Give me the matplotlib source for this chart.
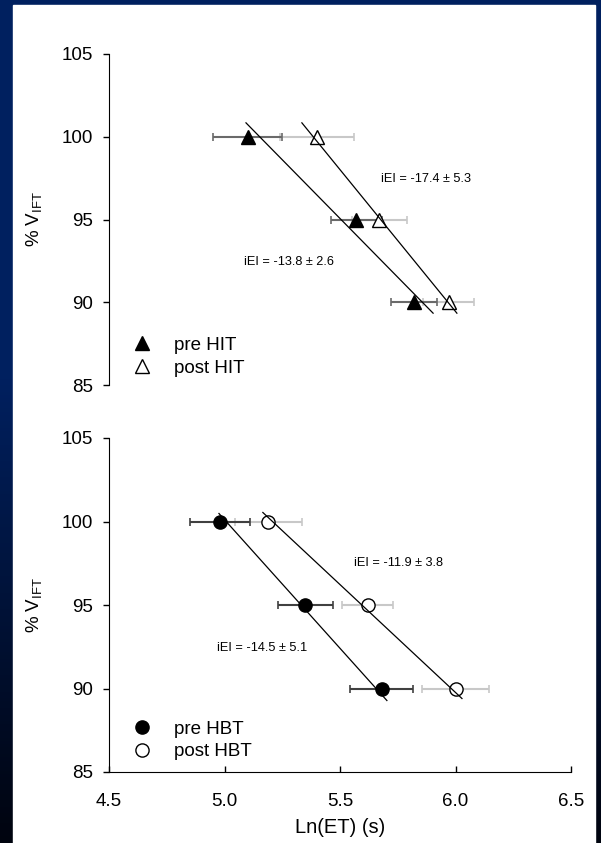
import numpy as np
import matplotlib
matplotlib.use("Agg")
import matplotlib.pyplot as plt
from matplotlib.colors import LinearSegmentedColormap
from matplotlib.patches import Rectangle

plt.rcParams['font.family'] = ['Liberation Sans', 'DejaVu Sans']
plt.rcParams['mathtext.default'] = 'regular'

# % of VIFT levels
levels = [100, 95, 90]

# HIT group, Ln(ET) means and SD
pre_hit = [5.10, 5.57, 5.82]
pre_hit_sd = [0.15, 0.11, 0.10]
post_hit = [5.40, 5.67, 5.97]
post_hit_sd = [0.16, 0.12, 0.11]

# HBT group
pre_hbt = [4.98, 5.35, 5.68]
pre_hbt_sd = [0.13, 0.12, 0.135]
post_hbt = [5.19, 5.62, 6.00]
post_hbt_sd = [0.145, 0.11, 0.145]

# regression lines (x ends, y ends)
pre_hit_line_x = [5.093, 5.903]
post_hit_line_x = [5.335, 6.006]
hit_line_y = [100.84, 89.34]
pre_hbt_line_x = [4.976, 5.703]
pre_hbt_line_y = [100.48, 89.28]
post_hbt_line_x = [5.166, 6.028]
post_hbt_line_y = [100.54, 89.40]

hit_notes = ["iEI = -17.4 \u00b1 5.3", "iEI = -13.8 \u00b1 2.6"]
hbt_notes = ["iEI = -11.9 \u00b1 3.8", "iEI = -14.5 \u00b1 5.1"]

W, H = 601, 843
fig = plt.figure(figsize=(W / 100, H / 100), dpi=100)

# slide background
bg = fig.add_axes([0, 0, 1, 1], zorder=-10)
cmap = LinearSegmentedColormap.from_list(
    "slide", [(0, "#00205f"), (0.45, "#00205f"), (1, "#00040f")])
grad = np.linspace(0, 1, 256).reshape(-1, 1)
bg.imshow(grad, aspect='auto', cmap=cmap, extent=[0, 1, 0, 1], origin='upper')
bg.add_patch(Rectangle((13 / W, 0), 582 / W, 838 / H, color='white'))
bg.set_xlim(0, 1)
bg.set_ylim(0, 1)
bg.axis('off')

fs = 13.5
note_fs = 9.2
left = 109 / W
width = 462 / W
ax1 = fig.add_axes([left, 1 - 385 / H, width, 331 / H])
ax2 = fig.add_axes([left, 1 - 772 / H, width, 334 / H])


def panel(ax, pre, pre_sd, post, post_sd, marker, labels, pre_col, leg_y):
    ax.errorbar(pre, levels, xerr=pre_sd, fmt='none', ecolor=pre_col,
                elinewidth=1.5, capsize=3, capthick=1.2, zorder=2)
    ax.errorbar(post, levels, xerr=post_sd, fmt='none', ecolor='#c8c8c8',
                elinewidth=1.5, capsize=3, capthick=1.2, zorder=1)
    ms = 10 if marker == '^' else 9.5
    ax.plot(pre, levels, marker, color='black', ms=ms, ls='none',
            label=labels[0], zorder=3)
    ax.plot(post, levels, marker, mfc='white', mec='black', mew=1,
            ms=ms, ls='none', label=labels[1], zorder=3)
    ax.set_xlim(4.5, 6.5)
    ax.set_ylim(85, 105)
    ax.set_yticks([85, 90, 95, 100, 105])
    for s in ['top', 'right']:
        ax.spines[s].set_visible(False)
    ax.tick_params(axis='y', direction='out', length=4.3, width=1,
                   labelsize=fs, pad=7)
    ax.set_ylabel('% V$_{IFT}$', fontsize=fs)
    ax.yaxis.set_label_coords(-0.14, 0.5)
    ax.legend(loc='lower left', bbox_to_anchor=(0.052, leg_y), frameon=False,
              fontsize=fs, handlelength=1.0, handletextpad=1.2,
              labelspacing=0.3, borderpad=0, borderaxespad=0)


panel(ax1, pre_hit, pre_hit_sd, post_hit, post_hit_sd, '^',
      ['pre HIT', 'post HIT'], '#6a6a6a', 0.025)
ax1.plot(pre_hit_line_x, hit_line_y, color='black', lw=0.9, zorder=4)
ax1.plot(post_hit_line_x, hit_line_y, color='black', lw=0.9, zorder=4)
ax1.spines['bottom'].set_visible(False)
ax1.set_xticks([])
ax1.text(5.677, 97.47, hit_notes[0], fontsize=note_fs, va='center')
ax1.text(5.084, 92.41, hit_notes[1], fontsize=note_fs, va='center')

panel(ax2, pre_hbt, pre_hbt_sd, post_hbt, post_hbt_sd, 'o',
      ['pre HBT', 'post HBT'], '#404040', 0.035)
ax2.plot(pre_hbt_line_x, pre_hbt_line_y, color='black', lw=0.9, zorder=4)
ax2.plot(post_hbt_line_x, post_hbt_line_y, color='black', lw=0.9, zorder=4)
ax2.set_xticks([4.5, 5.0, 5.5, 6.0, 6.5])
ax2.set_xticklabels(['4.5', '5.0', '5.5', '6.0', '6.5'])
ax2.tick_params(axis='x', direction='in', length=4, width=1,
                labelsize=fs, pad=15)
ax2.set_xlabel('Ln(ET) (s)', fontsize=14.5, labelpad=6)
ax2.text(5.561, 97.54, hbt_notes[0], fontsize=note_fs, va='center')
ax2.text(4.968, 92.40, hbt_notes[1], fontsize=note_fs, va='center')

fig.savefig('out.png', dpi=100)
